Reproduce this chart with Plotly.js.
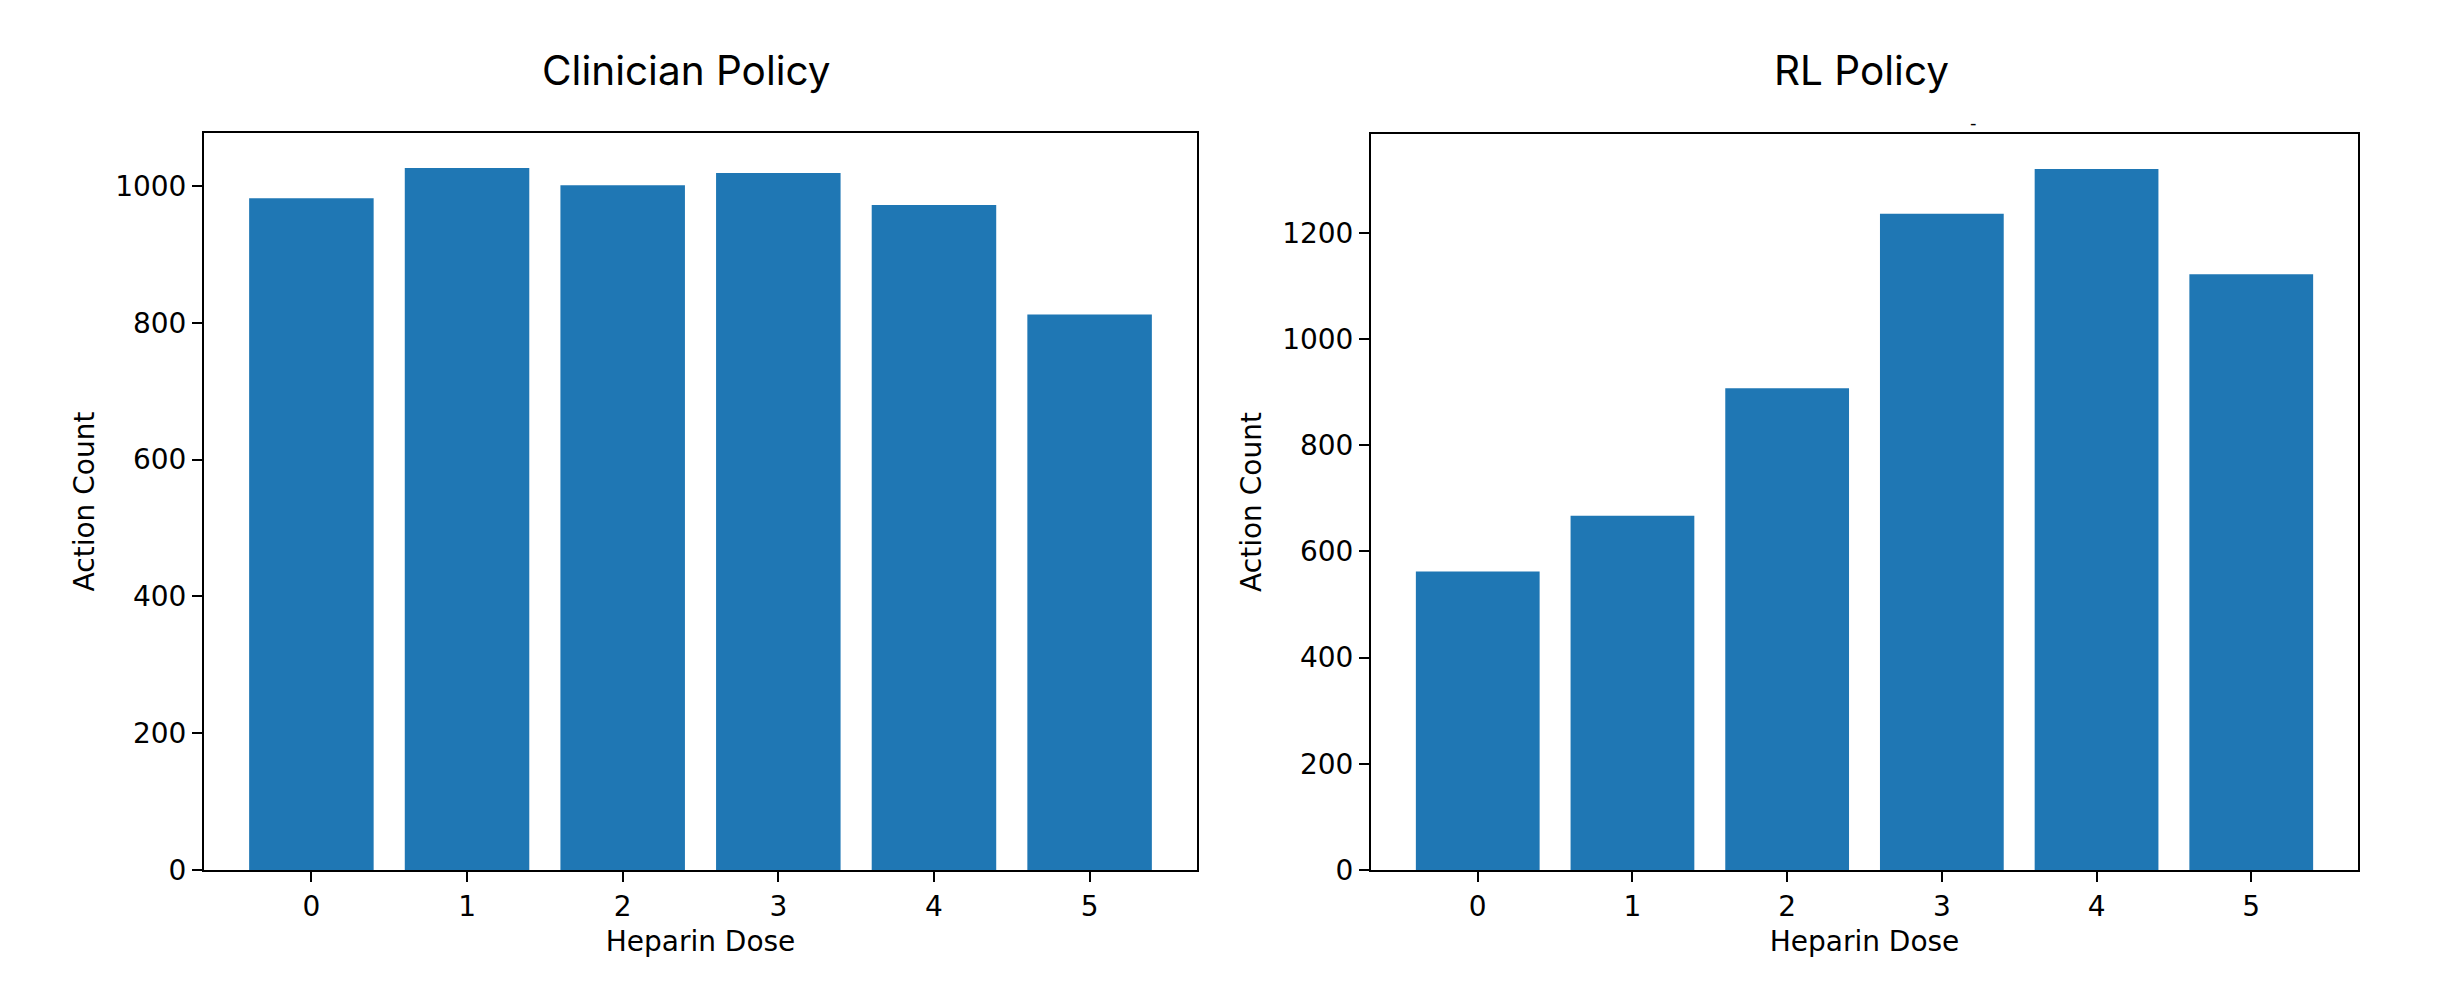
<!DOCTYPE html>
<html>
<head>
<meta charset="utf-8">
<script src="https://cdn.plot.ly/plotly-3.0.1.min.js"></script>
<style>html,body{margin:0;padding:0;background:#fff;}#chart{width:2440px;height:1006px;}</style>
</head>
<body>
<div id="chart"></div>
<script>
const doses = [0, 1, 2, 3, 4, 5];
const clinicianCounts = [982, 1026, 1001, 1019, 972, 812];
const rlCounts = [562, 667, 907, 1236, 1320, 1122];
const titles = ["Clinician Policy", "RL Policy"];
const xLabel = "Heparin Dose";
const yLabel = "Action Count";

const barColor = "#1f77b4";
const tickFont = {family: "DejaVu Sans", size: 28, color: "#000"};
const labelFont = {family: "DejaVu Sans", size: 28, color: "#000"};

const traces = [
  {type: "bar", x: doses, y: clinicianCounts, width: 0.8, marker: {color: barColor, line: {width: 0}}, xaxis: "x", yaxis: "y", hoverinfo: "x+y"},
  {type: "bar", x: doses, y: rlCounts, width: 0.8, marker: {color: barColor, line: {width: 0}}, xaxis: "x2", yaxis: "y2", hoverinfo: "x+y"}
];

function xAxis(domain, anchor) {
  return {
    domain: domain, anchor: anchor, range: [-0.69, 5.69],
    tickmode: "array", tickvals: doses, ticktext: doses.map(String),
    ticks: "outside", ticklen: 10, tickwidth: 2, tickcolor: "#000",
    showline: true, linecolor: "#000", linewidth: 2, mirror: true,
    showgrid: false, zeroline: false, tickfont: tickFont,
    title: {text: xLabel, font: labelFont, standoff: 10}
  };
}
function yAxis(domain, anchor, maxv) {
  return {
    domain: domain, anchor: anchor, range: [0, maxv * 1.05],
    tickmode: "linear", tick0: 0, dtick: 200,
    ticks: "outside", ticklen: 10, tickwidth: 2, tickcolor: "#000",
    showline: true, linecolor: "#000", linewidth: 2, mirror: true,
    showgrid: false, zeroline: false, tickfont: tickFont,
    title: {text: yLabel, font: labelFont, standoff: 12}
  };
}

const layout = {
  width: 2440, height: 1006,
  margin: {l: 0, r: 0, t: 0, b: 0},
  paper_bgcolor: "#fff", plot_bgcolor: "#fff",
  showlegend: false, bargap: 0.2,
  xaxis: xAxis([204 / 2440, 1197 / 2440], "y"),
  yaxis: yAxis([1 - 870 / 1006, 1 - 133 / 1006], "x", Math.max(...clinicianCounts)),
  xaxis2: xAxis([1371 / 2440, 2358 / 2440], "y2"),
  yaxis2: yAxis([1 - 870 / 1006, 1 - 134 / 1006], "x2", Math.max(...rlCounts)),
  annotations: [
    {text: titles[0], x: 686 / 2440, y: 1 - 70 / 1006, xref: "paper", yref: "paper", xanchor: "center", yanchor: "middle", showarrow: false, font: {family: "Inter", size: 40.5, color: "#000"}},
    {text: titles[1], x: 1862 / 2440, y: 1 - 70 / 1006, xref: "paper", yref: "paper", xanchor: "center", yanchor: "middle", showarrow: false, font: {family: "Inter", size: 40.5, color: "#000"}},
    {text: "-", x: 1973 / 2440, y: 1 - 122 / 1006, xref: "paper", yref: "paper", xanchor: "center", yanchor: "middle", showarrow: false, font: {family: "DejaVu Sans", size: 18, color: "#000"}}
  ]
};

Plotly.newPlot("chart", traces, layout, {displayModeBar: false, staticPlot: true});
</script>
</body>
</html>
